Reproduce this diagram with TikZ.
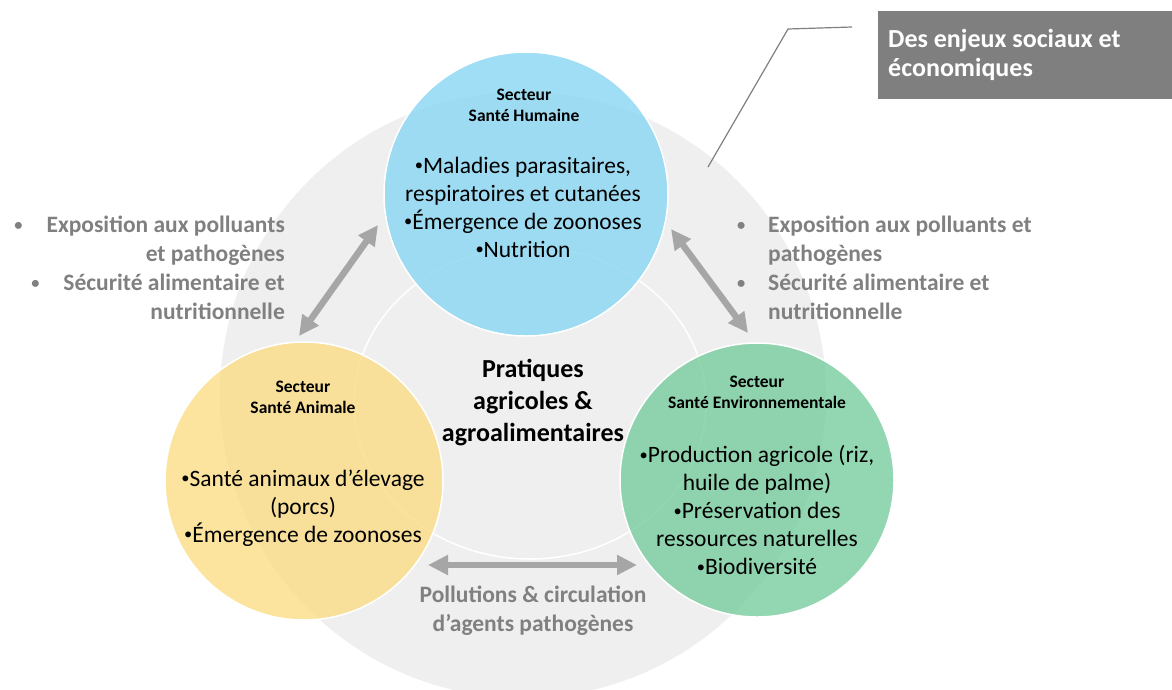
\documentclass[tikz,border=0pt]{standalone}
\usepackage{fontspec}
\setmainfont{Carlito}
\usepackage{xcolor}
\usepackage{graphicx}
\usetikzlibrary{arrows.meta}
\definecolor{bgGray}{RGB}{239,239,239}
\definecolor{humBlue}{RGB}{136,214,242}
\definecolor{aniYellow}{RGB}{251,221,134}
\definecolor{envGreen}{RGB}{119,205,158}
\definecolor{arrowGray}{RGB}{166,166,166}
\definecolor{txtGray}{RGB}{128,128,128}
\definecolor{boxGray}{RGB}{127,127,127}
\newcommand{\dotitem}{\raisebox{0.1em}{\scalebox{0.7}{\textbullet}}}

\begin{document}
\begin{tikzpicture}[x=1pt, y=-1pt,
        sector/.style={circle, draw=white, line width=1.5pt, fill opacity=0.8, minimum size=#1, inner sep=0pt},
        title/.style={align=center, font=\fontsize{17.5}{21}\selectfont\bfseries},
        items/.style={align=center, font=\fontsize{23.5}{28}\selectfont},
        side/.style={text=txtGray, font=\fontsize{23.5}{29}\selectfont\bfseries},
        link/.style={arrowGray, line width=6.5pt, {Triangle[length=20pt,width=19pt]}-{Triangle[length=20pt,width=19pt]}}]
        \useasboundingbox (0,0) rectangle (1172,689);
        % background
        \fill [bgGray] (523,395) circle [radius=303pt];
        \draw [white, line width=1.5pt] (530,403) ellipse [x radius=176pt, y radius=156pt];
        % sectors
        \node [sector=284pt, fill=humBlue] (hum) at (526,194) {};
        \node [sector=278pt, fill=aniYellow] (ani) at (304,481) {};
        \node [sector=274pt, fill=envGreen] (env) at (757,480) {};
        \node [title] (humTitle) at (524,105) {Secteur\\Santé Humaine};
        \node [items] (humItems) at (523,207) {\dotitem Maladies parasitaires,\\respiratoires et cutanées\\\dotitem Émergence de zoonoses\\\dotitem Nutrition};
        \node [title] (aniTitle) at (303,397) {Secteur\\Santé Animale};
        \node [items] (aniItems) at (303,508) {\dotitem Santé animaux d’élevage\\(porcs)\\\dotitem Émergence de zoonoses};
        \node [title] (envTitle) at (757,392) {Secteur\\Santé Environnementale};
        \node [items] (envItems) at (757,510) {\dotitem Production agricole (riz,\\huile de palme)\\\dotitem Préservation des\\ressources naturelles\\\dotitem Biodiversité};
        \node [align=center, font=\fontsize{26}{32}\selectfont\bfseries] (pratiques) at (533,403) {Pratiques\\agricoles \&\\agroalimentaires};
        % links
        \coordinate (hsTop) at (378,225);
        \coordinate (hsBot) at (299,336);
        \coordinate (heTop) at (671,229);
        \coordinate (heBot) at (748,333);
        \coordinate (aeLeft) at (428,565);
        \coordinate (aeRight) at (637,565);
        \draw [link] (hsBot) -- (hsTop);
        \draw [link] (heTop) -- (heBot);
        \draw [link] (aeLeft) -- (aeRight);
        \node [side, align=right, anchor=east, inner sep=0pt] (exposLeft) at (285,268) {\dotitem\hspace{24pt}Exposition aux polluants\\et pathogènes\\\dotitem\hspace{24pt}Sécurité alimentaire et\\nutritionnelle};
        \node [side, align=left, anchor=west, inner sep=0pt] (exposRight) at (737,268) {\makebox[31pt][l]{\dotitem}Exposition aux polluants et\\\hspace*{31pt}pathogènes\\\makebox[31pt][l]{\dotitem}Sécurité alimentaire et\\\hspace*{31pt}nutritionnelle};
        \node [side, align=center] (pollution) at (533,611) {Pollutions \& circulation\\d’agents pathogènes};
        % callout
        \node [fill=boxGray, text=white, font=\fontsize{26}{29}\selectfont\bfseries, align=flush left, text width=274pt, inner xsep=10pt, inner ysep=0pt, minimum height=88pt, anchor=north west] (enjeux) at (878,11) {Des enjeux sociaux et\\économiques};
        \coordinate (calloutFoot) at (708,167);
        \coordinate (calloutBend) at (788,29);
        \coordinate (calloutEnd) at (852,27);
        \draw [txtGray, line width=1.2pt] (calloutFoot) -- (calloutBend) -- (calloutEnd);
\end{tikzpicture}
\end{document}
